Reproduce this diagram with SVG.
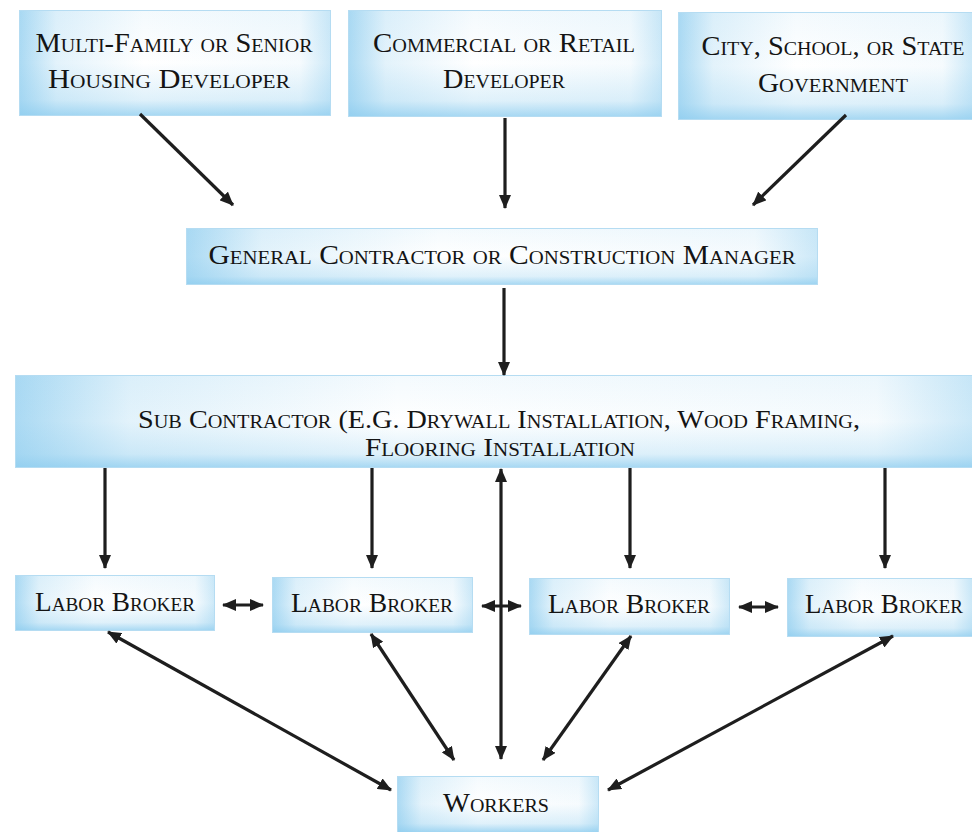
<svg xmlns="http://www.w3.org/2000/svg" width="972" height="832" viewBox="0 0 972 832">
<defs>
<linearGradient id="gh" x1="0" y1="0" x2="1" y2="0">
<stop offset="0" stop-color="#8ecdef" stop-opacity="0.75"/>
<stop offset="0.12" stop-color="#8ecdef" stop-opacity="0.25"/>
<stop offset="0.4" stop-color="#8ecdef" stop-opacity="0"/>
<stop offset="0.9" stop-color="#8ecdef" stop-opacity="0.08"/>
<stop offset="1" stop-color="#8ecdef" stop-opacity="0.45"/>
</linearGradient>
<linearGradient id="gv" x1="0" y1="0" x2="0" y2="1">
<stop offset="0" stop-color="#8ecdef" stop-opacity="0.1"/>
<stop offset="0.5" stop-color="#8ecdef" stop-opacity="0"/>
<stop offset="0.85" stop-color="#8ecdef" stop-opacity="0.28"/>
<stop offset="1" stop-color="#8ecdef" stop-opacity="0.8"/>
</linearGradient>
<marker id="ah" viewBox="0 0 14 12" refX="13" refY="6" markerWidth="14" markerHeight="12" markerUnits="userSpaceOnUse" orient="auto-start-reverse">
<path d="M0,0 L14,6 L0,12 Z" fill="#1e1e1e"/>
</marker>
<style>
.bx{fill:#ffffff;}
.bh{fill:url(#gh);}
.bv{fill:url(#gv);}
.bd{fill:none;stroke:#b5dcf2;stroke-width:1;}
text{font-family:"Liberation Serif","Times New Roman",serif;font-variant:small-caps;font-size:27px;fill:#141414;text-anchor:middle;}
text.s{font-size:25px;}
.c line{stroke:#1e1e1e;stroke-width:3.2;}
.one{marker-end:url(#ah);}
.two{marker-start:url(#ah);marker-end:url(#ah);}
</style>
</defs>
<rect width="972" height="832" fill="#ffffff"/>

<g id="n-multifamily">
<rect class="bx" x="19" y="10" width="312" height="106"/>
<rect class="bh" x="19" y="10" width="312" height="106"/>
<rect class="bv" x="19" y="10" width="312" height="106"/>
<rect class="bd" x="19.5" y="10.5" width="311" height="105"/>
<text x="174" y="52" textLength="277" lengthAdjust="spacingAndGlyphs">Multi-Family or Senior</text>
<text x="169" y="88" textLength="242" lengthAdjust="spacingAndGlyphs">Housing Developer</text>
</g>

<g id="n-commercial">
<rect class="bx" x="348" y="10" width="314" height="107"/>
<rect class="bh" x="348" y="10" width="314" height="107"/>
<rect class="bv" x="348" y="10" width="314" height="107"/>
<rect class="bd" x="348.5" y="10.5" width="313" height="106"/>
<text x="504" y="52" textLength="262" lengthAdjust="spacingAndGlyphs">Commercial or Retail</text>
<text x="504" y="88" textLength="122" lengthAdjust="spacingAndGlyphs">Developer</text>
</g>

<g id="n-government">
<rect class="bx" x="678" y="12" width="294" height="108"/>
<rect class="bh" x="678" y="12" width="294" height="108"/>
<rect class="bv" x="678" y="12" width="294" height="108"/>
<rect class="bd" x="678.5" y="12.5" width="300" height="107"/>
<text x="833" y="55" textLength="263" lengthAdjust="spacingAndGlyphs">City, School, or State</text>
<text x="833" y="92" textLength="150" lengthAdjust="spacingAndGlyphs">Government</text>
</g>

<g id="n-gc">
<rect class="bx" x="186" y="228" width="632" height="57"/>
<rect class="bh" x="186" y="228" width="632" height="57"/>
<rect class="bv" x="186" y="228" width="632" height="57"/>
<rect class="bd" x="186.5" y="228.5" width="631" height="56"/>
<text x="502" y="264" textLength="587" lengthAdjust="spacingAndGlyphs">General Contractor or Construction Manager</text>
</g>

<g id="n-sub">
<rect class="bx" x="15" y="375" width="957" height="93"/>
<rect class="bh" x="15" y="375" width="957" height="93"/>
<rect class="bv" x="15" y="375" width="957" height="93"/>
<rect class="bd" x="15.5" y="375.5" width="962" height="92"/>
<text class="s" x="499" y="428" textLength="722" lengthAdjust="spacingAndGlyphs">Sub Contractor (E.G. Drywall Installation, Wood Framing,</text>
<text class="s" x="500" y="456" textLength="270" lengthAdjust="spacingAndGlyphs">Flooring Installation</text>
</g>

<g id="n-lb1">
<rect class="bx" x="15" y="575" width="200" height="56"/>
<rect class="bh" x="15" y="575" width="200" height="56"/>
<rect class="bv" x="15" y="575" width="200" height="56"/>
<rect class="bd" x="15.5" y="575.5" width="199" height="55"/>
<text x="115" y="611" textLength="160" lengthAdjust="spacingAndGlyphs">Labor Broker</text>
</g>

<g id="n-lb2">
<rect class="bx" x="272" y="577" width="201" height="56"/>
<rect class="bh" x="272" y="577" width="201" height="56"/>
<rect class="bv" x="272" y="577" width="201" height="56"/>
<rect class="bd" x="272.5" y="577.5" width="200" height="55"/>
<text x="372" y="612" textLength="162" lengthAdjust="spacingAndGlyphs">Labor Broker</text>
</g>

<g id="n-lb3">
<rect class="bx" x="529" y="578" width="201" height="57"/>
<rect class="bh" x="529" y="578" width="201" height="57"/>
<rect class="bv" x="529" y="578" width="201" height="57"/>
<rect class="bd" x="529.5" y="578.5" width="200" height="56"/>
<text x="629" y="613" textLength="162" lengthAdjust="spacingAndGlyphs">Labor Broker</text>
</g>

<g id="n-lb4">
<rect class="bx" x="787" y="578" width="185" height="59"/>
<rect class="bh" x="787" y="578" width="185" height="59"/>
<rect class="bv" x="787" y="578" width="185" height="59"/>
<rect class="bd" x="787.5" y="578.5" width="190" height="58"/>
<text x="884" y="613" textLength="158" lengthAdjust="spacingAndGlyphs">Labor Broker</text>
</g>

<g id="n-workers">
<rect class="bx" x="397" y="776" width="202" height="56"/>
<rect class="bh" x="397" y="776" width="202" height="56"/>
<rect class="bv" x="397" y="776" width="202" height="56"/>
<rect class="bd" x="397.5" y="776.5" width="201" height="60"/>
<text x="496" y="812" textLength="106" lengthAdjust="spacingAndGlyphs">Workers</text>
</g>

<g id="connectors" class="c">
<line class="one" x1="140" y1="114" x2="233" y2="205"/>
<line class="one" x1="505" y1="118" x2="505" y2="208"/>
<line class="one" x1="846" y1="115" x2="753" y2="205"/>
<line class="one" x1="504" y1="288" x2="504" y2="375"/>
<line class="one" x1="105" y1="468" x2="105" y2="568"/>
<line class="one" x1="372" y1="468" x2="372" y2="568"/>
<line class="one" x1="630" y1="468" x2="630" y2="568"/>
<line class="one" x1="885" y1="468" x2="885" y2="568"/>
<line class="two" x1="223" y1="605" x2="263" y2="605"/>
<line class="two" x1="482" y1="606" x2="521" y2="606"/>
<line class="two" x1="739" y1="607" x2="778" y2="607"/>
<line class="two" x1="501" y1="469" x2="501" y2="759"/>
<line class="two" x1="108" y1="632" x2="391" y2="790"/>
<line class="two" x1="371" y1="634" x2="454" y2="760"/>
<line class="two" x1="631" y1="636" x2="543" y2="760"/>
<line class="two" x1="893" y1="636" x2="608" y2="790"/>
</g>
</svg>
